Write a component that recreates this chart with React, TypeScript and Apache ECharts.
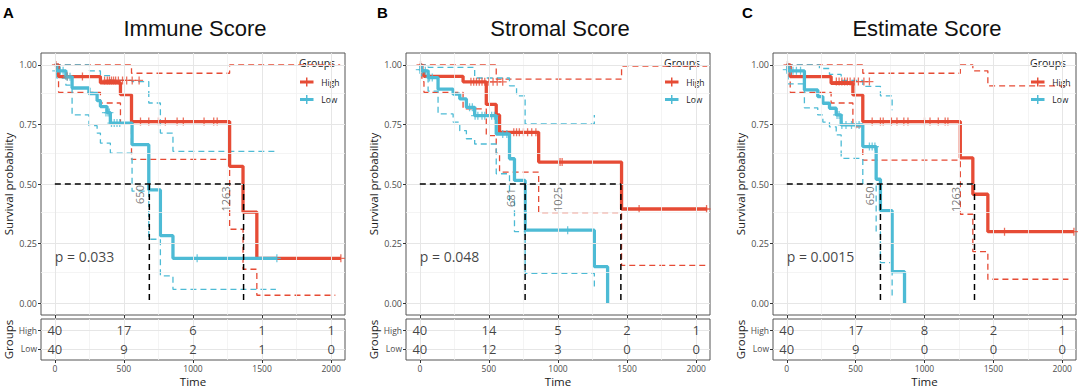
import React, { useEffect, useRef } from 'react';
import * as echarts from 'echarts';

const RED = '#E64B35';
const BLUE = '#4DBBD5';

// ---------- shared axis data ----------
const timeTicks = [0, 500, 1000, 1500, 2000];
const timeMinorTicks = [250, 750, 1250, 1750];
const survTicks = [0, 0.25, 0.5, 0.75, 1];
const survMinorTicks = [0.125, 0.375, 0.625, 0.875];
const groupLabels = ['High', 'Low'];
const riskRows = [1, 0];
const panelLetters = ['A', 'B', 'C'];
const panelTitles = ['Immune Score', 'Stromal Score', 'Estimate Score'];
const pValues = ['p = 0.033', 'p = 0.048', 'p = 0.0015'];
const pValuePos = [0, 0.196];

// ---------- Immune score ----------
const immuneHigh = [[0, 1], [27, 0.951], [330, 0.925], [475, 0.875], [555, 0.762], [1265, 0.574], [1362, 0.382], [1462, 0.188], [2070, 0.188]];
const immuneHighUpper = [[0, 1], [555, 0.965], [1265, 1], [2065, 1]];
const immuneHighLower = [[0, 1], [27, 0.885], [330, 0.84], [475, 0.75], [555, 0.603], [1265, 0.31], [1362, 0.142], [1462, 0.033], [2030, 0.033]];
const immuneHighCensor = [[8, 1], [90, 0.951], [200, 0.951], [360, 0.935], [380, 0.935], [395, 0.935], [410, 0.935], [425, 0.935], [440, 0.935], [460, 0.935], [490, 0.935], [520, 0.935], [560, 0.935], [610, 0.935], [620, 0.762], [680, 0.762], [750, 0.762], [800, 0.762], [885, 0.762], [930, 0.762], [1080, 0.762], [1150, 0.762], [1175, 0.762], [2070, 0.188]];
const immuneLow = [[0, 1], [15, 0.975], [80, 0.95], [125, 0.903], [247, 0.88], [306, 0.85], [330, 0.825], [378, 0.8], [402, 0.756], [559, 0.665], [680, 0.475], [764, 0.283], [855, 0.188], [1607, 0.188]];
const immuneLowUpper = [[0, 1], [125, 1], [250, 0.975], [330, 0.955], [402, 0.935], [559, 0.93], [680, 0.84], [764, 0.714], [855, 0.637], [1600, 0.637]];
const immuneLowLower = [[0, 1], [15, 0.945], [80, 0.915], [125, 0.79], [247, 0.745], [306, 0.714], [330, 0.672], [402, 0.63], [559, 0.47], [680, 0.268], [764, 0.114], [855, 0.058], [1600, 0.058]];
const immuneLowCensor = [[10, 0.975], [40, 0.975], [60, 0.975], [90, 0.95], [110, 0.95], [370, 0.8], [385, 0.8], [395, 0.8], [410, 0.756], [430, 0.756], [450, 0.756], [470, 0.756], [1030, 0.188], [1607, 0.188]];
const immuneMedians = [684, 1366];
const immuneMedianText = [[616, 0.456, '650'], [1234, 0.437, '1263']];
const immuneRiskHigh = [40, 17, 6, 1, 1];
const immuneRiskLow = [40, 9, 2, 1, 0];

// ---------- Stromal score ----------
const stromalHigh = [[0, 1], [15, 0.975], [30, 0.952], [313, 0.929], [481, 0.834], [553, 0.79], [577, 0.717], [860, 0.592], [1460, 0.395], [2080, 0.395]];
const stromalHighUpper = [[0, 1], [553, 0.94], [1460, 0.995], [2080, 0.995]];
const stromalHighLower = [[0, 1], [15, 0.93], [30, 0.885], [313, 0.815], [481, 0.703], [553, 0.63], [577, 0.55], [860, 0.38], [1460, 0.158], [2070, 0.158]];
const stromalHighCensor = [[5, 1], [370, 0.929], [390, 0.929], [410, 0.929], [430, 0.929], [450, 0.929], [470, 0.929], [500, 0.929], [530, 0.929], [560, 0.929], [600, 0.929], [680, 0.717], [700, 0.717], [720, 0.717], [750, 0.717], [780, 0.717], [810, 0.717], [840, 0.717], [1015, 0.592], [1030, 0.592], [1587, 0.395], [2075, 0.395]];
const stromalLow = [[0, 1], [10, 0.975], [60, 0.947], [132, 0.898], [241, 0.877], [289, 0.857], [337, 0.822], [397, 0.787], [553, 0.71], [649, 0.606], [685, 0.515], [762, 0.306], [1263, 0.153], [1359, 0]];
const stromalLowUpper = [[0, 1], [60, 0.99], [397, 0.945], [649, 0.912], [700, 0.87], [762, 0.752], [1263, 0.79]];
const stromalLowLower = [[0, 1], [10, 0.955], [60, 0.89], [132, 0.794], [241, 0.76], [289, 0.724], [337, 0.69], [397, 0.668], [553, 0.543], [649, 0.43], [685, 0.3], [762, 0.125], [1263, 0.063]];
const stromalLowCensor = [[0, 0.98], [20, 0.98], [40, 0.975], [70, 0.947], [90, 0.947], [360, 0.822], [380, 0.822], [400, 0.787], [420, 0.787], [450, 0.787], [470, 0.787], [520, 0.787], [540, 0.787], [600, 0.71], [630, 0.71], [1070, 0.306]];
const stromalMedians = [762, 1455];
const stromalMedianText = [[653, 0.443, '681'], [996, 0.435, '1025']];
const stromalRiskHigh = [40, 14, 5, 2, 1];
const stromalRiskLow = [40, 12, 3, 0, 0];

// ---------- Estimate score ----------
const estimateHigh = [[0, 1], [25, 0.951], [322, 0.923], [480, 0.874], [552, 0.762], [1260, 0.61], [1351, 0.457], [1460, 0.3], [2085, 0.3]];
const estimateHighUpper = [[0, 1], [552, 0.965], [1260, 1], [1351, 0.975], [1460, 0.912], [2058, 0.912]];
const estimateHighLower = [[0, 1], [25, 0.885], [322, 0.84], [480, 0.74], [552, 0.6], [1260, 0.373], [1351, 0.216], [1460, 0.1], [2045, 0.1]];
const estimateHighCensor = [[5, 1], [360, 0.93], [380, 0.93], [400, 0.93], [420, 0.93], [440, 0.93], [460, 0.93], [490, 0.93], [520, 0.93], [560, 0.93], [600, 0.93], [620, 0.762], [680, 0.762], [700, 0.762], [760, 0.762], [800, 0.762], [850, 0.762], [880, 0.762], [1000, 0.762], [1040, 0.762], [1100, 0.762], [1150, 0.762], [1170, 0.762], [1581, 0.3], [2085, 0.3]];
const estimateLow = [[0, 1], [10, 0.975], [128, 0.895], [225, 0.867], [262, 0.839], [310, 0.818], [359, 0.79], [395, 0.748], [552, 0.657], [649, 0.52], [680, 0.388], [765, 0.132], [855, 0]];
const estimateLowUpper = [[0, 1], [237, 0.985], [310, 0.96], [395, 0.935], [552, 0.91], [680, 0.87], [765, 0.81]];
const estimateLowLower = [[0, 1], [10, 0.92], [128, 0.82], [225, 0.79], [262, 0.76], [310, 0.74], [359, 0.706], [395, 0.608], [552, 0.5], [649, 0.3], [680, 0.17], [765, 0.02]];
const estimateLowCensor = [[0, 0.98], [25, 0.975], [45, 0.975], [70, 0.975], [100, 0.975], [365, 0.79], [380, 0.79], [400, 0.748], [430, 0.748], [470, 0.748], [500, 0.748], [525, 0.748], [600, 0.657], [620, 0.657], [640, 0.657]];
const estimateMedians = [680, 1363];
const estimateMedianText = [[600, 0.45, '650'], [1225, 0.435, '1263']];
const estimateRiskHigh = [40, 17, 8, 2, 1];
const estimateRiskLow = [40, 9, 0, 0, 0];

const panels = [
  { high: immuneHigh, highUp: immuneHighUpper, highLo: immuneHighLower, highCens: immuneHighCensor, low: immuneLow, lowUp: immuneLowUpper, lowLo: immuneLowLower, lowCens: immuneLowCensor, medians: immuneMedians, medianText: immuneMedianText, riskHigh: immuneRiskHigh, riskLow: immuneRiskLow },
  { high: stromalHigh, highUp: stromalHighUpper, highLo: stromalHighLower, highCens: stromalHighCensor, low: stromalLow, lowUp: stromalLowUpper, lowLo: stromalLowLower, lowCens: stromalLowCensor, medians: stromalMedians, medianText: stromalMedianText, riskHigh: stromalRiskHigh, riskLow: stromalRiskLow },
  { high: estimateHigh, highUp: estimateHighUpper, highLo: estimateHighLower, highCens: estimateHighCensor, low: estimateLow, lowUp: estimateLowUpper, lowLo: estimateLowLower, lowCens: estimateLowCensor, medians: estimateMedians, medianText: estimateMedianText, riskHigh: estimateRiskHigh, riskLow: estimateRiskLow },
];

// ---------- layout ----------
const survLeft = [41, 406, 773];
const survWidth = [304, 304, 303];
const survTop = 53;
const survHeight = 262;
const riskTop = 319;
const riskHeight = 41;
const FONT = "'Open Sans', sans-serif";
const TITLE_FONT = "'Liberation Sans', Arial, sans-serif";
const MAJOR = '#e6e6e6';
const MINOR = '#f1f1f1';
const PLUS = 'path://M4.2,0H5.8V10H4.2Z M0,4.2H10V5.8H0Z';
const KEY = 'path://M0,3.3H15V6.7H0Z M6.7,0H8.3V10H6.7Z';

function gridHelper(xi: number, showY: number[], minorY: number[]) {
  const data: any[] = [];
  timeMinorTicks.forEach(v => data.push({ xAxis: v, lineStyle: { color: MINOR, width: 0.8 } }));
  minorY.forEach(v => data.push({ yAxis: v, lineStyle: { color: MINOR, width: 0.8 } }));
  timeTicks.forEach(v => data.push({ xAxis: v, lineStyle: { color: MAJOR, width: 1 } }));
  showY.forEach(v => data.push({ yAxis: v, lineStyle: { color: MAJOR, width: 1 } }));
  return {
    type: 'line', xAxisIndex: xi, yAxisIndex: xi, data: [], silent: true, z: 0,
    markLine: { silent: true, symbol: ['none', 'none'], label: { show: false }, lineStyle: { type: 'solid' }, data, animation: false },
  };
}

function buildOption() {
  const grid: any[] = [];
  const xAxis: any[] = [];
  const yAxis: any[] = [];
  const series: any[] = [];
  const legend: any[] = [];
  const graphic: any[] = [];
  const tickStyle = { color: '#333', width: 1 };

  panels.forEach((p, i) => {
    const si = 2 * i;
    const ri = 2 * i + 1;
    grid.push({ left: survLeft[i], top: survTop, width: survWidth[i], height: survHeight, show: true, borderColor: '#555', borderWidth: 1, backgroundColor: 'transparent' });
    grid.push({ left: survLeft[i], top: riskTop, width: survWidth[i], height: riskHeight, show: true, borderColor: '#555', borderWidth: 1, backgroundColor: 'transparent' });

    xAxis.push({
      type: 'value', gridIndex: si, min: -100, max: 2100,
      axisLine: { show: false, onZero: false },
      axisTick: { show: true, customValues: timeTicks, length: 3, lineStyle: tickStyle },
      axisLabel: { show: false, customValues: timeTicks },
      splitLine: { show: false },
    });
    xAxis.push({
      type: 'value', gridIndex: ri, min: -100, max: 2100,
      axisLine: { show: false, onZero: false },
      axisTick: { show: true, customValues: timeTicks, length: 3, lineStyle: tickStyle },
      axisLabel: { customValues: timeTicks, formatter: (v: number) => String(v), fontSize: 8.5, color: '#4d4d4d', margin: 4, fontFamily: FONT },
      splitLine: { show: false },
      name: 'Time', nameLocation: 'middle', nameGap: 15,
      nameTextStyle: { fontSize: 11.5, color: '#1a1a1a', fontFamily: FONT },
    });
    yAxis.push({
      type: 'value', gridIndex: si, min: -0.05, max: 1.05,
      axisLine: { show: false, onZero: false },
      axisTick: { show: true, customValues: survTicks, length: 3, lineStyle: tickStyle },
      axisLabel: { customValues: survTicks, formatter: (v: number) => v.toFixed(2), fontSize: 9, color: '#4d4d4d', margin: 4, fontFamily: FONT },
      splitLine: { show: false },
      name: 'Survival probability', nameLocation: 'middle', nameGap: 27,
      nameTextStyle: { fontSize: 11.5, color: '#1a1a1a', fontFamily: FONT },
    });
    yAxis.push({
      type: 'value', gridIndex: ri, min: -0.6, max: 1.6,
      axisLine: { show: false, onZero: false },
      axisTick: { show: true, customValues: riskRows, length: 3, lineStyle: tickStyle },
      axisLabel: { customValues: riskRows, formatter: (v: number) => groupLabels[riskRows.indexOf(v)] || '', fontSize: 8.5, color: '#4d4d4d', margin: 4, fontFamily: FONT },
      splitLine: { show: false },
      name: 'Groups', nameLocation: 'middle', nameGap: 27,
      nameTextStyle: { fontSize: 11.5, color: '#1a1a1a', fontFamily: FONT },
    });

    series.push(gridHelper(si, survTicks, survMinorTicks));
    series.push(gridHelper(ri, riskRows, []));

    const ci = (name: string, data: number[][], color: string) => ({
      type: 'line', name, xAxisIndex: si, yAxisIndex: si, step: 'end', data, symbol: 'none', showSymbol: false, silent: true, z: 2,
      lineStyle: { color, width: 1.3, type: [6, 4] },
    });
    series.push(ci('High upper', p.highUp, RED));
    series.push(ci('High lower', p.highLo, RED));
    series.push(ci('Low upper', p.lowUp, BLUE));
    series.push(ci('Low lower', p.lowLo, BLUE));

    const curve = (name: string, data: number[][], color: string) => ({
      type: 'line', name, xAxisIndex: si, yAxisIndex: si, step: 'end', data, symbol: 'none', showSymbol: false, silent: true, z: 3,
      lineStyle: { color, width: 3.3 }, itemStyle: { color },
    });
    const cens = (name: string, data: number[][], color: string) => ({
      type: 'scatter', name, xAxisIndex: si, yAxisIndex: si, data, symbol: PLUS, symbolSize: 8, silent: true, z: 4,
      itemStyle: { color },
    });
    series.push(curve('High', p.high, RED));
    series.push(cens('High censor', p.highCens, RED));
    series.push(curve('Low', p.low, BLUE));
    series.push(cens('Low censor', p.lowCens, BLUE));

    const medMax = Math.max(...p.medians);
    const dashed = { color: '#000', width: 1.5, type: [6, 4] };
    series.push({ type: 'line', name: 'median h', xAxisIndex: si, yAxisIndex: si, data: [[0, 0.5], [medMax, 0.5]], symbol: 'none', silent: true, z: 5, lineStyle: dashed });
    p.medians.forEach((m, k) => {
      series.push({ type: 'line', name: 'median v' + k, xAxisIndex: si, yAxisIndex: si, data: [[m, 0.5], [m, 0]], symbol: 'none', silent: true, z: 5, lineStyle: dashed });
    });
    series.push({
      type: 'scatter', name: 'median labels', xAxisIndex: si, yAxisIndex: si, data: p.medianText, symbolSize: 0, silent: true, z: 6,
      itemStyle: { color: 'rgba(0,0,0,0)' },
      label: { show: true, position: 'inside', rotate: 90, formatter: (q: any) => q.value[2], fontSize: 11, color: '#555', fontFamily: FONT },
    });
    series.push({
      type: 'scatter', name: 'pvalue', xAxisIndex: si, yAxisIndex: si, data: [[pValuePos[0], pValuePos[1], pValues[i]]], symbolSize: 0, silent: true, z: 6,
      itemStyle: { color: 'rgba(0,0,0,0)' },
      label: { show: true, position: 'right', distance: 0, formatter: (q: any) => q.value[2], fontSize: 14, color: '#111', fontFamily: FONT },
    });

    const riskSeries = (counts: number[], row: number) => ({
      type: 'scatter', name: 'risk' + row, xAxisIndex: ri, yAxisIndex: ri,
      data: timeTicks.map((t, j) => [t, row, counts[j]]), symbolSize: 0, silent: true, z: 6,
      itemStyle: { color: 'rgba(0,0,0,0)' },
      label: { show: true, position: 'inside', formatter: (q: any) => String(q.value[2]), fontSize: 13, color: '#111', fontFamily: FONT },
    });
    series.push(riskSeries(p.riskHigh, riskRows[0]));
    series.push(riskSeries(p.riskLow, riskRows[1]));

    const right = survLeft[i] + survWidth[i];
    legend.push({
      left: right - 45, top: 77.5, orient: 'vertical', padding: 0,
      itemWidth: 15, itemHeight: 9, itemGap: 8.5, icon: KEY, selectedMode: false,
      data: groupLabels,
      textStyle: { fontSize: 8.5, color: '#1a1a1a', fontFamily: FONT, lineHeight: 9, padding: [0, 0, 0, 2] },
    });
    graphic.push({ type: 'text', left: right - 46, top: 57, style: { text: 'Groups', fontSize: 10.5, fill: '#1a1a1a', fontFamily: FONT } });
    graphic.push({ type: 'text', x: survLeft[i] + 154, y: 28, style: { text: panelTitles[i], fontSize: 22, fill: '#111', fontFamily: TITLE_FONT, textAlign: 'center', textVerticalAlign: 'middle', align: 'center', verticalAlign: 'middle' } });
  });

  const letterX = [3, 377, 742];
  panelLetters.forEach((l, i) => {
    graphic.push({ type: 'text', left: letterX[i], top: 5, style: { text: l, fontSize: 15, fontWeight: 'bold', fill: '#000', fontFamily: TITLE_FONT } });
  });

  return {
    animation: false,
    backgroundColor: '#fff',
    textStyle: { fontFamily: FONT },
    grid, xAxis, yAxis, series, legend, graphic,
  };
}

export default function App() {
  const ref = useRef<HTMLDivElement>(null);
  useEffect(() => {
    if (!ref.current) return;
    const chart = echarts.init(ref.current, undefined, { renderer: 'svg' });
    chart.setOption(buildOption() as any);
    return () => chart.dispose();
  }, []);
  return <div ref={ref} style={{ position: 'absolute', left: 0, top: 0, width: 1080, height: 388 }} />;
}
